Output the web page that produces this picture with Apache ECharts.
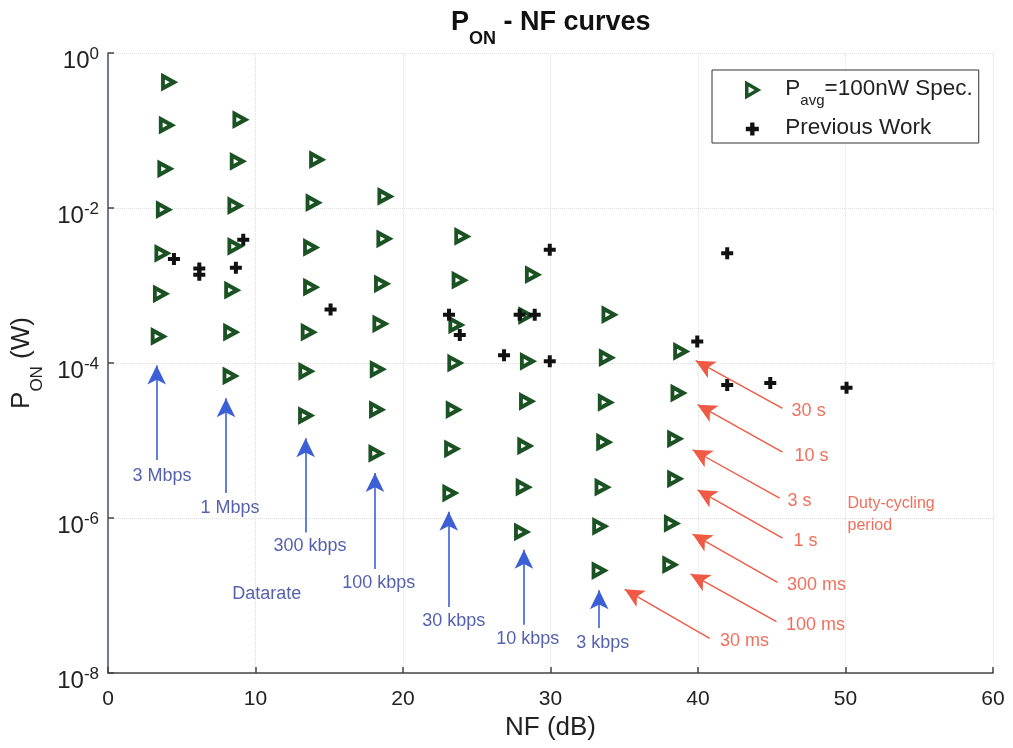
<!DOCTYPE html>
<html lang="en" style="height: 100%">
<head>
    <meta charset="UTF-8">
    <title>PON - NF curves</title>
    <script src="https://cdn.jsdelivr.net/npm/echarts@6/dist/echarts.min.js"></script>
</head>
<body style="height: 100%; margin: 0">
<div id="main" style="width: 1013px; height: 748px"></div>
<script>
    // Pavg = 100nW spec points, one column per datarate
    var specNF = [
        4.1, 3.95, 3.85, 3.75, 3.65, 3.55, 3.4,
        8.94, 8.76, 8.6, 8.6, 8.38, 8.31, 8.27,
        14.14, 13.9, 13.73, 13.73, 13.57, 13.41, 13.39,
        18.77, 18.7, 18.54, 18.43, 18.25, 18.2, 18.16,
        23.98, 23.8, 23.58, 23.51, 23.4, 23.29, 23.17,
        28.77, 28.32, 28.43, 28.37, 28.25, 28.14, 28.03,
        33.96, 33.78, 33.71, 33.6, 33.49, 33.33, 33.29,
        38.82, 38.64, 38.41, 38.41, 38.19, 38.08
    ];
    var specPon = [
        4.2e-1, 1.17e-1, 3.2e-2, 9.5e-3, 2.6e-3, 7.8e-4, 2.2e-4,
        1.38e-1, 4.0e-2, 1.07e-2, 3.2e-3, 8.7e-4, 2.5e-4, 6.8e-5,
        4.2e-2, 1.17e-2, 3.1e-3, 9.5e-4, 2.5e-4, 7.8e-5, 2.1e-5,
        1.41e-2, 4.0e-3, 1.05e-3, 3.2e-4, 8.3e-5, 2.5e-5, 6.8e-6,
        4.3e-3, 1.17e-3, 3.1e-4, 1.0e-4, 2.5e-5, 7.8e-6, 2.1e-6,
        1.38e-3, 4.1e-4, 1.05e-4, 3.2e-5, 8.5e-6, 2.5e-6, 6.6e-7,
        4.2e-4, 1.17e-4, 3.1e-5, 9.5e-6, 2.5e-6, 7.8e-7, 2.1e-7,
        1.41e-4, 4.1e-5, 1.05e-5, 3.2e-6, 8.5e-7, 2.5e-7
    ];

    // previous work
    var prevNF = [4.47, 6.19, 6.19, 9.17, 8.67, 15.09, 23.12, 23.85, 29.95, 26.85,
        29.95, 27.91, 28.93, 41.98, 39.95, 41.98, 44.9, 50.07];
    var prevPon = [2.2e-3, 1.66e-3, 1.38e-3, 3.9e-3, 1.7e-3, 4.9e-4, 4.2e-4, 2.3e-4, 2.9e-3, 1.26e-4,
        1.05e-4, 4.2e-4, 4.2e-4, 2.6e-3, 1.9e-4, 5.2e-5, 5.5e-5, 4.8e-5];

    // datarate annotations (blue)
    var rateLabels = ['3 Mbps', '1 Mbps', '300 kbps', '100 kbps', '30 kbps', '10 kbps', '3 kbps'];
    var rateArrowX = [3.3, 8.0, 13.4, 18.1, 23.1, 28.2, 33.3];
    var rateArrowTip = [9.3e-5, 3.5e-5, 1.07e-5, 3.8e-6, 1.2e-6, 3.9e-7, 1.17e-7];
    var rateArrowTail = [5.6e-6, 2.1e-6, 6.5e-7, 2.2e-7, 7.1e-8, 4.2e-8, 3.8e-8];
    var rateLabelX = [3.66, 8.27, 13.69, 18.36, 23.44, 28.46, 33.54];
    var rateLabelP = [3.5e-6, 1.35e-6, 4.3e-7, 1.45e-7, 4.7e-8, 2.75e-8, 2.45e-8];
    var datarateTitle = ['Datarate', 10.77, 1.05e-7];

    // duty-cycling period annotations (red)
    var periodLabels = ['30 s', '10 s', '3 s', '1 s', '300 ms', '100 ms', '30 ms'];
    var periodTipX = [39.84, 39.97, 39.63, 39.97, 39.63, 39.5, 35.03];
    var periodTipP = [1.07e-4, 2.9e-5, 7.6e-6, 2.3e-6, 6.2e-7, 1.9e-7, 1.2e-7];
    var periodTailX = [45.73, 45.73, 45.53, 45.73, 45.39, 45.32, 40.79];
    var periodTailP = [2.6e-5, 7.1e-6, 1.8e-6, 5.5e-7, 1.48e-7, 4.6e-8, 2.8e-8];
    var periodLabelX = [47.5, 47.7, 46.88, 47.29, 48.04, 47.97, 43.16];
    var periodLabelP = [2.4e-5, 6.3e-6, 1.66e-6, 5.0e-7, 1.38e-7, 4.2e-8, 2.6e-8];
    var periodTitle = ['Duty-cycling\nperiod', 50.14, 1.12e-6];

    var font = "'Liberation Sans', Arial, sans-serif";
    var green = '#1b5223';
    var blueLine = '#3d5fd6', blueText = '#28389a';
    var redLine = '#ef5a44', redText = '#ee4a33';

    function zip(xs, ys) {
        return xs.map(function (x, i) { return [x, ys[i]]; });
    }

    var rateText = rateLabels.map(function (t, i) { return [rateLabelX[i], rateLabelP[i], t]; });
    rateText.push([datarateTitle[1], datarateTitle[2], datarateTitle[0]]);
    var rateLines = rateArrowX.map(function (x, i) {
        return [{coord: [x, rateArrowTail[i]]}, {coord: [x, rateArrowTip[i]]}];
    });
    var periodText = periodLabels.map(function (t, i) { return [periodLabelX[i], periodLabelP[i], t]; });
    var periodLines = periodTipX.map(function (x, i) {
        return [{coord: [periodTailX[i], periodTailP[i]]}, {coord: [x, periodTipP[i]]}];
    });

    var triangle = 'path://M0,0L12,7L0,14Z';
    var plus = 'path://M4,0H8V4H12V8H8V12H4V8H0V4H4Z';

    var myoption = {
        animation: false,
        title: {
            text: '{p|P}{s|ON}{p| - NF curves}',
            left: 446,
            top: 4,
            textStyle: {
                rich: {
                    p: {fontSize: 27, fontWeight: 'bold', fontFamily: font, color: '#111', lineHeight: 32, verticalAlign: 'top'},
                    s: {fontSize: 18, fontWeight: 'bold', fontFamily: font, color: '#111', lineHeight: 18, verticalAlign: 'top', padding: [21, 0, 0, 0]}
                }
            }
        },
        legend: {
            orient: 'vertical',
            left: 712,
            top: 70,
            data: [
                {name: 'spec', icon: triangle, itemStyle: {color: '#fff', borderColor: green, borderWidth: 3.5}},
                {name: 'prev', icon: plus, itemStyle: {color: '#111'}}
            ],
            itemWidth: 56,
            itemHeight: 13,
            itemGap: 8,
            padding: [7, 6, 4, 33],
            borderColor: '#333',
            borderWidth: 1,
            borderRadius: 0,
            backgroundColor: '#fff',
            formatter: function (name) {
                return name === 'spec' ? '{p|P}{s|avg}{p|=100nW Spec.}' : '{p|Previous Work}';
            },
            textStyle: {
                rich: {
                    p: {fontSize: 22.5, fontFamily: font, color: '#222', lineHeight: 26, verticalAlign: 'top'},
                    s: {fontSize: 15, fontFamily: font, color: '#222', lineHeight: 15, verticalAlign: 'top', padding: [16, 0, 0, 0]}
                }
            }
        },
        grid: {left: 108, right: 20, top: 53, bottom: 75},
        xAxis: {
            type: 'value',
            min: 0,
            max: 60,
            interval: 10,
            name: 'NF (dB)',
            nameLocation: 'middle',
            nameGap: 33,
            nameTextStyle: {fontSize: 26, fontFamily: font, color: '#222'},
            axisLine: {lineStyle: {color: '#444', width: 1.5}},
            axisTick: {inside: true, length: 6, lineStyle: {color: '#444', width: 1.5}},
            axisLabel: {fontSize: 21, fontFamily: font, color: '#222', margin: 16},
            splitLine: {show: true, lineStyle: {color: '#e0e0e0', type: 'dotted'}}
        },
        yAxis: {
            type: 'log',
            logBase: 100,
            min: 1e-8,
            max: 1,
            name: '{p|P}{s|ON}{p| (W)}',
            nameLocation: 'middle',
            nameGap: 56,
            nameTextStyle: {
                rich: {
                    p: {fontSize: 26, fontFamily: font, color: '#222', lineHeight: 30, verticalAlign: 'top'},
                    s: {fontSize: 17, fontFamily: font, color: '#222', lineHeight: 17, verticalAlign: 'top', padding: [20, 0, 0, 0]}
                }
            },
            axisLine: {lineStyle: {color: '#4a4f66', width: 1.5}},
            axisTick: {inside: true, length: 6, lineStyle: {color: '#444', width: 1.5}},
            axisLabel: {
                margin: 9,
                formatter: function (v) {
                    return '{b|10}{e|' + Math.round(Math.log10(v)) + '}';
                },
                rich: {
                    b: {fontSize: 24, fontFamily: font, color: '#222', lineHeight: 27, verticalAlign: 'top', padding: [10, 0, 0, 0]},
                    e: {fontSize: 17, fontFamily: font, color: '#222', lineHeight: 17, verticalAlign: 'top', padding: [6, 0, 0, 0]}
                }
            },
            splitLine: {show: true, lineStyle: {color: '#e0e0e0', type: 'dotted'}}
        },
        series: [
            {
                name: 'spec',
                type: 'scatter',
                symbol: triangle,
                symbolSize: [11, 12],
                itemStyle: {color: '#fff', borderColor: green, borderWidth: 4, opacity: 1},
                data: zip(specNF, specPon),
                z: 3
            },
            {
                name: 'prev',
                type: 'scatter',
                symbol: plus,
                symbolSize: 12,
                itemStyle: {color: '#111', opacity: 1},
                data: zip(prevNF, prevPon),
                z: 4
            },
            {
                name: 'rate',
                type: 'scatter',
                symbolSize: 0,
                silent: true,
                label: {
                    show: true,
                    position: 'inside',
                    formatter: function (p) { return p.value[2]; },
                    fontSize: 18,
                    fontFamily: font,
                    color: blueText
                },
                data: rateText,
                markLine: {
                    silent: true,
                    symbol: ['none', 'arrow'],
                    symbolSize: [14, 19],
                    label: {show: false},
                    lineStyle: {color: blueLine, width: 1.6, type: 'solid'},
                    data: rateLines
                }
            },
            {
                name: 'period',
                type: 'scatter',
                symbolSize: 0,
                silent: true,
                label: {
                    show: true,
                    position: 'inside',
                    formatter: function (p) { return p.value[2]; },
                    fontSize: 18,
                    fontFamily: font,
                    color: redText
                },
                data: periodText,
                markLine: {
                    silent: true,
                    symbol: ['none', 'arrow'],
                    symbolSize: [14, 19],
                    label: {show: false},
                    lineStyle: {color: redLine, width: 1.4, type: 'solid'},
                    data: periodLines
                }
            },
            {
                name: 'periodTitle',
                type: 'scatter',
                symbolSize: 0,
                silent: true,
                label: {
                    show: true,
                    position: 'right',
                    distance: 0,
                    formatter: function (p) { return p.value[2]; },
                    fontSize: 16,
                    fontFamily: font,
                    lineHeight: 22,
                    color: redText
                },
                data: [[periodTitle[1], periodTitle[2], periodTitle[0]]]
            }
        ]
    };
    var myChart = echarts.init(document.getElementById('main'));
    myChart.setOption(myoption);
</script>
</body>
</html>
